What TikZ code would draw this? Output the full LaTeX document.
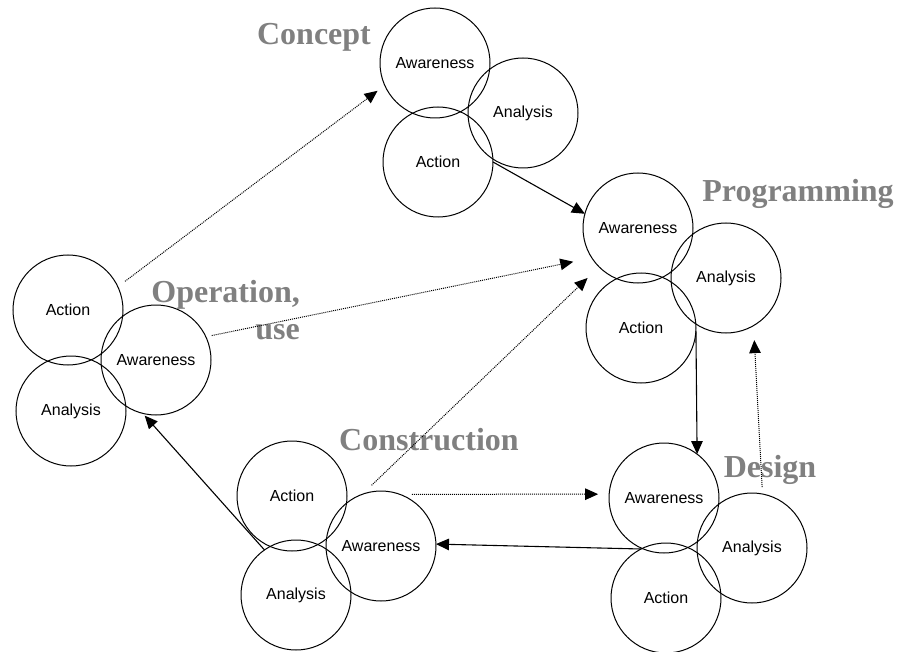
\documentclass[tikz,border=0pt]{standalone}
\usepackage{fontspec}
\setmainfont{Liberation Serif}
\setsansfont{Liberation Sans}
\usepackage{tikz}
\usetikzlibrary{arrows.meta}
\definecolor{phasegray}{HTML}{808080}

\begin{document}
\begin{tikzpicture}[
  x=1pt, y=-1pt,
  ring/.style={circle, draw, line width=1pt, minimum size=110pt, inner sep=0pt, outer sep=0pt, font=\sffamily\fontsize{16}{19}\selectfont},
  phase/.style={font=\bfseries\fontsize{32}{37}\selectfont, text=phasegray, anchor=base, inner sep=0pt},
  arrow/.style={-{Triangle[length=13pt, width=11.5pt]}, line width=1.1pt},
  dotarrow/.style={arrow, line width=1pt, dash pattern=on 1pt off 1pt}
]
  \useasboundingbox (0,0) rectangle (904,652);

  \node[ring] (ccAw) at (435,63) {Awareness};
  \node[ring] (ccAn) at (523,113) {Analysis};
  \node[ring] (ccAct) at (438,162) {Action};
  \node[phase] (ccName) at (314,45) {Concept};

  \node[ring] (prAw) at (638,228) {Awareness};
  \node[ring] (prAn) at (726,278) {Analysis};
  \node[ring] (prAct) at (641,328) {Action};
  \node[phase] (prName) at (798,202) {Programming};

  \node[ring] (dsAw) at (664,498) {Awareness};
  \node[ring] (dsAn) at (752,548) {Analysis};
  \node[ring] (dsAct) at (666,598) {Action};
  \node[phase] (dsName) at (770,477) {Design};

  \node[ring] (csAct) at (292,496) {Action};
  \node[ring] (csAw) at (381,546) {Awareness};
  \node[ring] (csAn) at (296,595) {Analysis};
  \node[phase] (csName) at (429,450) {Construction};

  \node[ring] (opAct) at (68,310) {Action};
  \node[ring] (opAw) at (156,360) {Awareness};
  \node[ring] (opAn) at (71,411) {Analysis};
  \node[phase, align=right, anchor=north east] (opName) at (300,280) {Operation,\\use};

  \draw[arrow] (ccAct.east) -- (prAw.165);
  \draw[dotarrow, shorten <=9pt, shorten >=9pt] (opAct.25) -- (ccAw.204);
  \draw[dotarrow, shorten <=6pt, shorten >=19pt] (opAw.25) -- (prAw.213);
  \draw[dotarrow, shorten <=13pt, shorten >=16pt] (csAw.110) -- (prAw.225);
  \draw[dotarrow, shorten <=12pt, shorten >=11pt] (csAw.70) -- (dsAw.176);
  \draw[arrow] (prAct.-3) -- (dsAw.53);
  \draw[dotarrow, shorten <=7pt, shorten >=14.5pt] (dsAn.79) -- (prAn.-60);
  \draw[arrow] (dsAct.117) -- (csAw.2);
  \draw[arrow, shorten >=3pt] (csAn.125) -- (opAw.256);

\end{tikzpicture}
\end{document}
